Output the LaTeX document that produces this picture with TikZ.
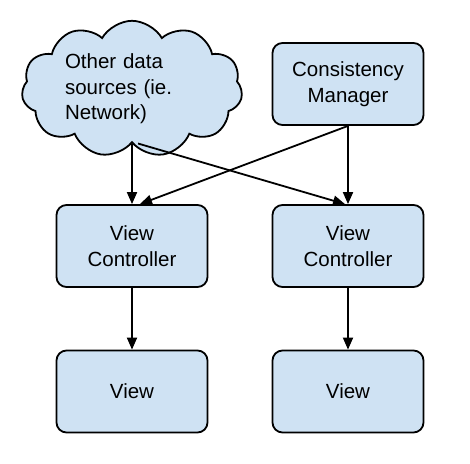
\documentclass[tikz,border=0pt]{standalone}
\usepackage{fontspec}
\setmainfont{Liberation Sans}
\usepackage{tikz}
\usetikzlibrary{shapes.symbols, arrows.meta}
\definecolor{boxblue}{HTML}{CFE2F3}

\begin{document}
\begin{tikzpicture}[x=1pt, y=-1pt,
  box/.style={draw, line width=1.8pt, fill=boxblue, rounded corners=10pt,
    minimum width=151pt, minimum height=82pt, align=center,
    font=\fontsize{20.5}{25.5}\selectfont},
  link/.style={line width=1.8pt, -{Triangle[length=12pt, width=10pt]}}]
  \useasboundingbox[fill=white] (0,0) rectangle (470,463);

  % sources on top
  \node[cloud, cloud puffs=11, cloud puff arc=120, cloud ignores aspect, draw,
    line width=1.8pt, fill=boxblue, inner xsep=8pt, inner ysep=2.5pt,
    text width=134pt, align=left, font=\fontsize{20.5}{25.5}\selectfont]
    (src) at (132,89) {Other data\\sources (ie.\\Network)};
  \node[box] (cm) at (348,84) {Consistency\\Manager};

  % controllers
  \node[box] (vcl) at (132,246) {View\\Controller};
  \node[box] (vcr) at (348,246) {View\\Controller};

  % views
  \node[box] (vl) at (132,391.5) {View};
  \node[box] (vr) at (348,391.5) {View};

  \draw[link] (src.south) -- (vcl.north);
  \draw[link] ([xshift=6pt]src.south) -- ([xshift=-3pt]vcr.north);
  \draw[link] (cm.south) -- ([xshift=8pt]vcl.north);
  \draw[link] (cm.south) -- (vcr.north);
  \draw[link] (vcl) -- (vl);
  \draw[link] (vcr) -- (vr);
\end{tikzpicture}
\end{document}
